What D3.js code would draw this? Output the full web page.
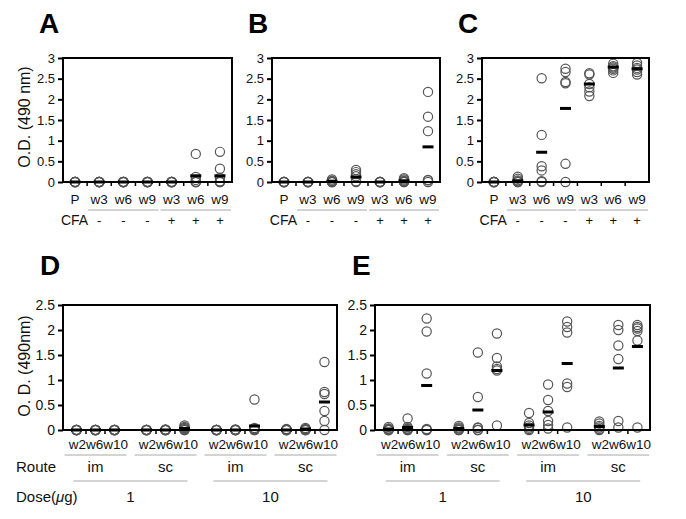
<!DOCTYPE html>
<html><head><meta charset="utf-8">
<script src="https://cdn.jsdelivr.net/npm/d3@7"></script>
<style>
body{margin:0;background:#fff;}
svg{display:block;font-family:"Liberation Sans",Arial,sans-serif;}
</style></head>
<body>
<svg id="chart" width="686" height="519"></svg>
<script>
// ---------- data ----------
const topCategories = ["P","w3","w6","w9","w3","w6","w9"];
const cfaSigns = ["","-","-","-","+","+","+"];
const topTicks = [0,0.5,1,1.5,2,2.5,3];
const aValues = [
  [0,0,0,0,0,0],[0,0,0,0,0,0],[0,0,0,0,0,0],[0,0,0,0,0,0],[0,0,0,0,0,0],
  [0.68,0.12,0.05,0,0,0],[0.73,0.32,0.1,0.02,0,0]];
const aMeans = [0,0,0,0,0,0.15,0.15];
const bValues = [
  [0,0,0,0,0,0],[0,0,0,0,0,0],[0.06,0.03,0.01,0,0,0],[0.29,0.24,0.19,0.14,0.02,0],
  [0,0,0,0,0,0],[0.09,0.06,0.03,0.02,0,0],[2.18,1.58,1.23,0.05,0.04,0]];
const bMeans = [0,0,0.02,0.12,0,0.03,0.85];
const cValues = [
  [0,0,0,0,0,0],[0.13,0.08,0.04,0.02,0,0],[2.51,1.14,0.38,0.28,0.02,0],
  [2.74,2.66,2.42,2.39,0.44,0],[2.63,2.6,2.37,2.29,2.19,2.08],
  [2.86,2.8,2.77,2.74,2.7,2.64],[2.88,2.82,2.76,2.72,2.66,2.6]];
const cMeans = [0,0.03,0.72,1.78,2.37,2.78,2.74];

const weeks = ["w2","w6","w10"];
const routes = ["im","sc","im","sc"];
const doses = ["1","10"];
const bottomTicks = [0,0.5,1,1.5,2,2.5];
// 12 groups: im-1 (w2,w6,w10), sc-1, im-10, sc-10
const dValues = [
  [0,0,0,0,0,0],[0,0,0,0,0,0],[0,0,0,0,0,0],
  [0,0,0,0,0,0],[0.01,0,0,0,0,0],[0.09,0.06,0.04,0.02,0,0],
  [0,0,0,0,0,0],[0.01,0,0,0,0,0],[0.61,0.04,0.02,0.01,0,0],
  [0.02,0.01,0,0,0,0],[0.04,0.02,0.01,0,0,0],[1.36,0.76,0.72,0.38,0.18,0]];
const dMeans = [0,0,0,0,0,0.03,0,0,0.08,0,0.02,0.56];
const eValues = [
  [0.06,0.03,0.02,0,0,0],[0.23,0.06,0.03,0.02,0,0],[2.23,1.97,1.13,0.02,0,0],
  [0.08,0.05,0.03,0.01,0,0],[1.55,0.66,0.05,0.04,0,0],[1.93,1.44,1.27,1.22,1.19,0.09],
  [0.34,0.14,0.09,0.05,0.02,0],[0.91,0.6,0.38,0.18,0.1,0.03],[2.17,2.06,1.95,0.93,0.86,0.05],
  [0.17,0.13,0.08,0.05,0.02,0],[2.1,2.0,1.69,1.42,0.18,0.05],[2.1,2.06,2.03,1.98,1.79,0.05]];
const eMeans = [0.02,0.05,0.89,0.03,0.4,1.19,0.1,0.36,1.33,0.07,1.24,1.67];

// ---------- drawing ----------
const svg = d3.select("#chart");
svg.append("rect").attr("width",686).attr("height",519).attr("fill","#fff");
const CIRC = "#555", GRAY = "#a8a8a8";
const fmt = d => String(d);

function yAxis(g, y, x0, ticks, fs){
  const ax = g.append("g").attr("transform",`translate(${x0},0)`)
    .call(d3.axisLeft(y).tickValues(ticks).tickSize(5).tickPadding(3).tickFormat(fmt));
  ax.select(".domain").remove();
  ax.selectAll("line").attr("stroke","#000").attr("stroke-width",2);
  ax.selectAll("text").attr("font-size",fs).attr("fill","#111")
    .attr("font-family","Liberation Sans, Arial, sans-serif");
}

function dots(g, cx, vals, means, y){
  vals.forEach((arr,i)=>{
    g.selectAll(null).data(arr).enter().append("circle")
      .attr("cx",cx(i)).attr("cy",d=>y(d)).attr("r",4.6)
      .attr("fill","none").attr("stroke",CIRC).attr("stroke-width",1.2);
  });
}
function meanBars(g, cx, means, y){
  g.selectAll(null).data(means).enter().append("line")
    .attr("x1",(d,i)=>cx(i)-5.5).attr("x2",(d,i)=>cx(i)+5.5)
    .attr("y1",d=>y(d)).attr("y2",d=>y(d))
    .attr("stroke","#000").attr("stroke-width",3);
}

function drawTop(x0,x1,letter,vals,means,yTitle){
  const g = svg.append("g");
  const y = d3.scaleLinear().domain([0,3]).range([182,58]);
  const x = d3.scaleBand().domain(d3.range(topCategories.length)).range([x0,x1]);
  const bw = x.bandwidth();
  const cx = i => x(i)+bw/2;
  g.append("text").attr("x",x0-24).attr("y",33).attr("font-size",28)
    .attr("font-weight","bold").text(letter);
  yAxis(g,y,x0,topTicks,13);
  g.selectAll(null).data(d3.range(1,topCategories.length)).enter().append("line")
    .attr("x1",i=>x(i)).attr("x2",i=>x(i)).attr("y1",182).attr("y2",186)
    .attr("stroke","#000").attr("stroke-width",1.5);
  dots(g,cx,vals,means,y);
  g.append("rect").attr("x",x0).attr("y",58).attr("width",x1-x0).attr("height",124)
    .attr("fill","none").attr("stroke","#000").attr("stroke-width",2);
  meanBars(g,cx,means,y);
  g.selectAll(null).data(topCategories).enter().append("text")
    .attr("x",(d,i)=>cx(i)).attr("y",204).attr("text-anchor","middle")
    .attr("font-size",13.5).attr("fill","#111").text(d=>d);
  [[1,3],[4,6]].forEach(([a,b])=>{
    g.append("line").attr("x1",x(a)+1).attr("x2",x(b)+bw-1).attr("y1",210).attr("y2",210)
      .attr("stroke",GRAY).attr("stroke-width",1);
  });
  g.append("text").attr("x",x(0)+bw+1).attr("y",225).attr("text-anchor","end")
    .attr("font-size",14).attr("fill","#111").text("CFA");
  g.selectAll(null).data(cfaSigns).enter().append("text")
    .attr("x",(d,i)=>cx(i)).attr("y",225).attr("text-anchor","middle")
    .attr("font-size",13).attr("fill","#111").text(d=>d);
  if(yTitle){
    g.append("text").attr("transform","translate(24,117) rotate(-90)")
      .attr("text-anchor","middle").attr("dy","0.35em").attr("font-size",16)
      .attr("fill","#111").text(yTitle);
  }
}

function drawBottom(x0,x1,letter,vals,means,yTitle,rowLabels){
  const g = svg.append("g");
  const y = d3.scaleLinear().domain([0,2.5]).range([430,305]);
  const groupStep = 70/19;
  const nG = routes.length, nW = weeks.length;
  const lastU = (nG-1)*groupStep + (nW-1);
  const xs = d3.scaleLinear().domain([-0.71, lastU+0.66]).range([x0,x1]);
  const cx = i => xs(Math.floor(i/nW)*groupStep + (i%nW));
  const gc = k => xs(k*groupStep + (nW-1)/2);
  g.append("text").attr("x",x0-23).attr("y",275).attr("font-size",28)
    .attr("font-weight","bold").text(letter);
  yAxis(g,y,x0,bottomTicks,14);
  const tk = [];
  for(let k=0;k<nG;k++) for(let w=0;w<nW-1;w++) tk.push(xs(k*groupStep+w+0.5));
  g.selectAll(null).data(tk).enter().append("line")
    .attr("x1",d=>d).attr("x2",d=>d).attr("y1",430).attr("y2",434)
    .attr("stroke","#000").attr("stroke-width",1.5);
  dots(g,cx,vals,means,y);
  g.append("rect").attr("x",x0).attr("y",305).attr("width",x1-x0).attr("height",125)
    .attr("fill","none").attr("stroke","#000").attr("stroke-width",2);
  meanBars(g,cx,means,y);
  routes.forEach((r,k)=>{
    const t = g.append("text").attr("x",gc(k)+3).attr("y",449).attr("text-anchor","middle")
      .attr("font-size",13.5).attr("fill","#111");
    weeks.forEach(w=>t.append("tspan").text(w));
    g.append("line").attr("x1",gc(k)-31).attr("x2",gc(k)+31).attr("y1",455).attr("y2",455)
      .attr("stroke",GRAY).attr("stroke-width",1);
    g.append("text").attr("x",gc(k)).attr("y",472).attr("text-anchor","middle")
      .attr("font-size",15).attr("fill","#111").text(r);
  });
  doses.forEach((d,j)=>{
    const m = (gc(2*j)+gc(2*j+1))/2;
    g.append("line").attr("x1",m-57).attr("x2",m+57).attr("y1",481).attr("y2",481)
      .attr("stroke",GRAY).attr("stroke-width",1);
    g.append("text").attr("x",m).attr("y",502).attr("text-anchor","middle")
      .attr("font-size",15).attr("fill","#111").text(d);
  });
  if(rowLabels){
    g.append("text").attr("x",16).attr("y",472).attr("font-size",15).attr("fill","#111").text("Route");
    const t = g.append("text").attr("x",16).attr("y",502).attr("font-size",15).attr("fill","#111");
    t.append("tspan").text("Dose(");
    t.append("tspan").attr("font-style","italic").text("\u03bc");
    t.append("tspan").text("g)");
  }
  if(yTitle){
    g.append("text").attr("transform","translate(24,366) rotate(-90)")
      .attr("text-anchor","middle").attr("dy","0.35em").attr("font-size",16)
      .attr("fill","#111").text(yTitle);
  }
}

drawTop(63,232,"A",aValues,aMeans,"O.D. (490 nm)");
drawTop(272,440,"B",bValues,bMeans,null);
drawTop(482,649,"C",cValues,cMeans,null);
drawBottom(63,337,"D",dValues,dMeans,"O. D. (490nm)",true);
drawBottom(375,650,"E",eValues,eMeans,null,false);
</script>
</body></html>
